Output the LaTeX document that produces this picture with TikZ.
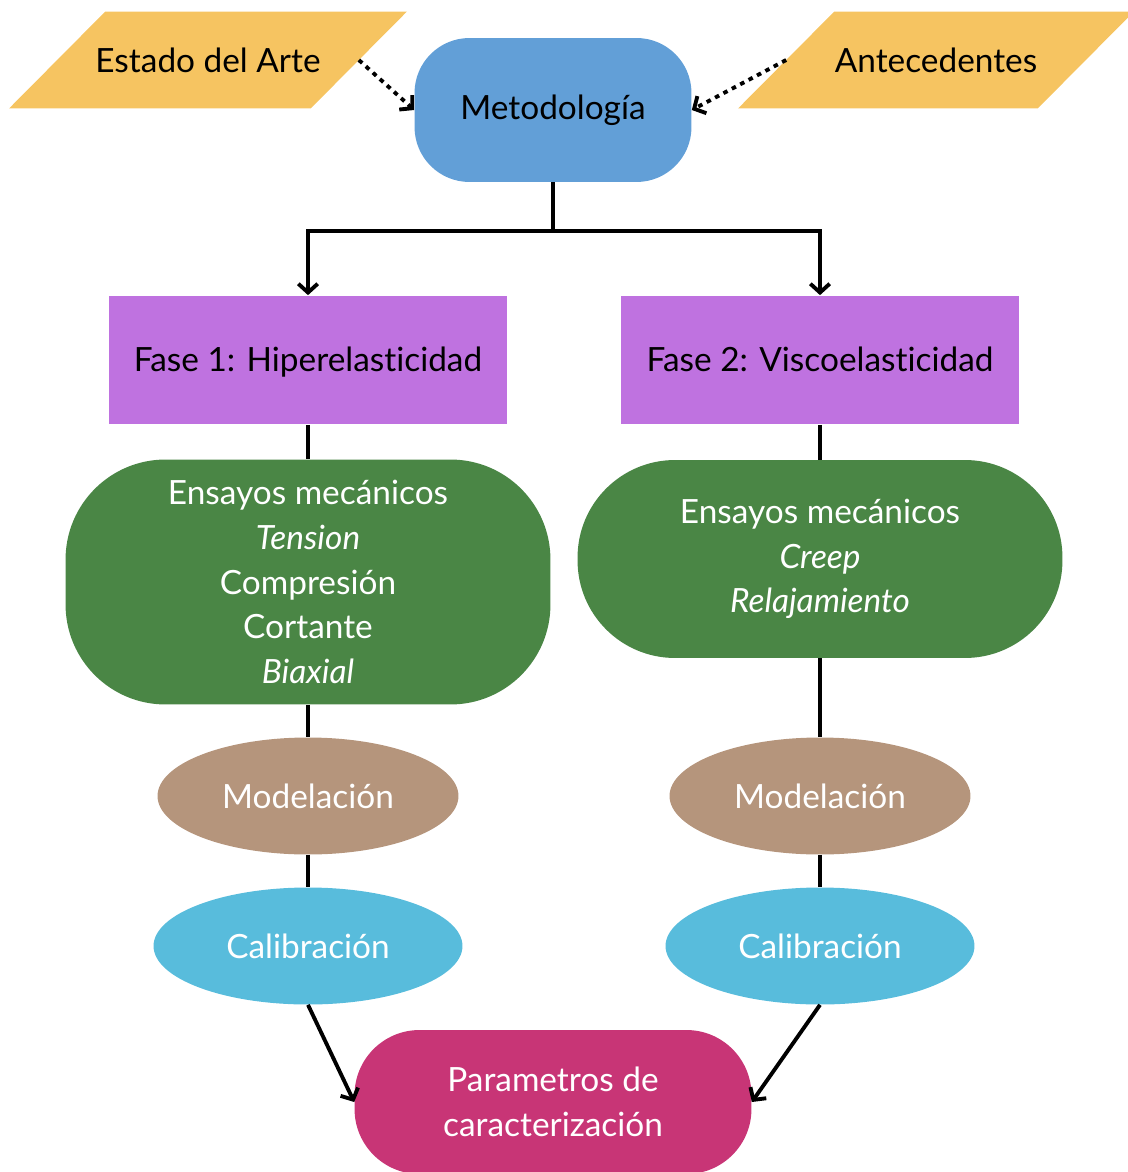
\documentclass[tikz,border=0pt]{standalone}
\usepackage{fontspec}
\setmainfont{Lato}[Ligatures=NoCommon]
\usetikzlibrary{shapes.geometric,arrows.meta,backgrounds}

\definecolor{amarillo}{HTML}{F6C461}
\definecolor{azul}{HTML}{629FD7}
\definecolor{morado}{HTML}{BF72E0}
\definecolor{verde}{HTML}{4A8645}
\definecolor{cafe}{HTML}{B5957C}
\definecolor{celeste}{HTML}{58BCDC}
\definecolor{magenta}{HTML}{C83576}

\begin{document}
\begin{tikzpicture}[x=0.02cm, y=-0.02cm,
	font=\fontsize{19}{25.5}\selectfont,
	caja/.style={inner sep=0pt, align=center},
	dato/.style={caja, rectangle, minimum height=1.92cm},
	fase/.style={caja, rectangle, fill=morado, minimum width=7.98cm, minimum height=2.58cm,
		text height=17.5pt, text depth=4pt},
	ensayo/.style={caja, rectangle, fill=verde, text=white, minimum width=9.7cm},
	elipse/.style={caja, ellipse, text=white, minimum height=2.34cm},
	linea/.style={line width=2.2pt},
	flecha/.style={linea, -{Straight Barb[length=5pt,width=11pt]}},
	punteada/.style={flecha, dash pattern=on 2.6pt off 2.8pt}]

\clip (0,0) rectangle (1127,1172);

% Entradas
\node[dato, minimum width=6.02cm] (estado) at (208,60) {Estado del Arte};
\node[dato, minimum width=5.98cm] (antec) at (936,60) {Antecedentes};
\begin{scope}[on background layer]
	\foreach \n in {estado, antec}
		\fill[amarillo] ([xshift=0.96cm]\n.north west) -- ([xshift=0.96cm]\n.north east)
			-- ([xshift=-0.96cm]\n.south east) -- ([xshift=-0.96cm]\n.south west) -- cycle;
\end{scope}
\node[caja, rectangle, rounded corners=1.1cm, fill=azul, minimum width=5.54cm, minimum height=2.88cm]
	(meto) at (553,110) {Metodología};

\draw[punteada] (estado.east) -- (meto.west);
\draw[punteada] (antec.west) -- (meto.east);

% Fases
\node[fase] (fase1) at (308,360) {Fase 1: Hiperelasticidad};
\node[fase] (fase2) at (820,360) {Fase 2: Viscoelasticidad};

\coordinate (bif) at (553,231);
\draw[linea] (meto.south) -- (bif);
\draw[flecha] (bif) -| (fase1.north);
\draw[flecha] (bif) -| (fase2.north);

% Ensayos
\node[ensayo, rounded corners=2cm, minimum height=4.9cm] (ens1) at (308,582)
	{Ensayos mecánicos\\ \textit{Tension}\\ Compresión\\ Cortante\\ \textit{Biaxial}};
\node[ensayo, rounded corners=1.95cm, minimum height=3.96cm] (ens2) at (820,559)
	{Ensayos mecánicos\\ \textit{Creep}\\ \textit{Relajamiento}};

% Modelacion y calibracion
\foreach \lado/\x in {1/308, 2/820} {
	\node[elipse, fill=cafe, minimum width=6.02cm] (mod\lado) at (\x,796) {Modelación};
	\node[elipse, fill=celeste, minimum width=6.18cm] (cal\lado) at (\x,946) {Calibración};
	\draw[linea] (fase\lado.south) -- (ens\lado.north);
	\draw[linea] (ens\lado.south) -- (mod\lado.north);
	\draw[linea] (mod\lado.south) -- (cal\lado.north);
}

% Resultado
\node[caja, rectangle, rounded corners=1.3cm, fill=magenta, text=white, minimum width=7.94cm,
	minimum height=2.88cm] (param) at (553,1102) {Parametros de\\ caracterización};

\draw[flecha] (cal1.south) -- (param.west);
\draw[flecha] (cal2.south) -- (param.east);
\end{tikzpicture}
\end{document}
